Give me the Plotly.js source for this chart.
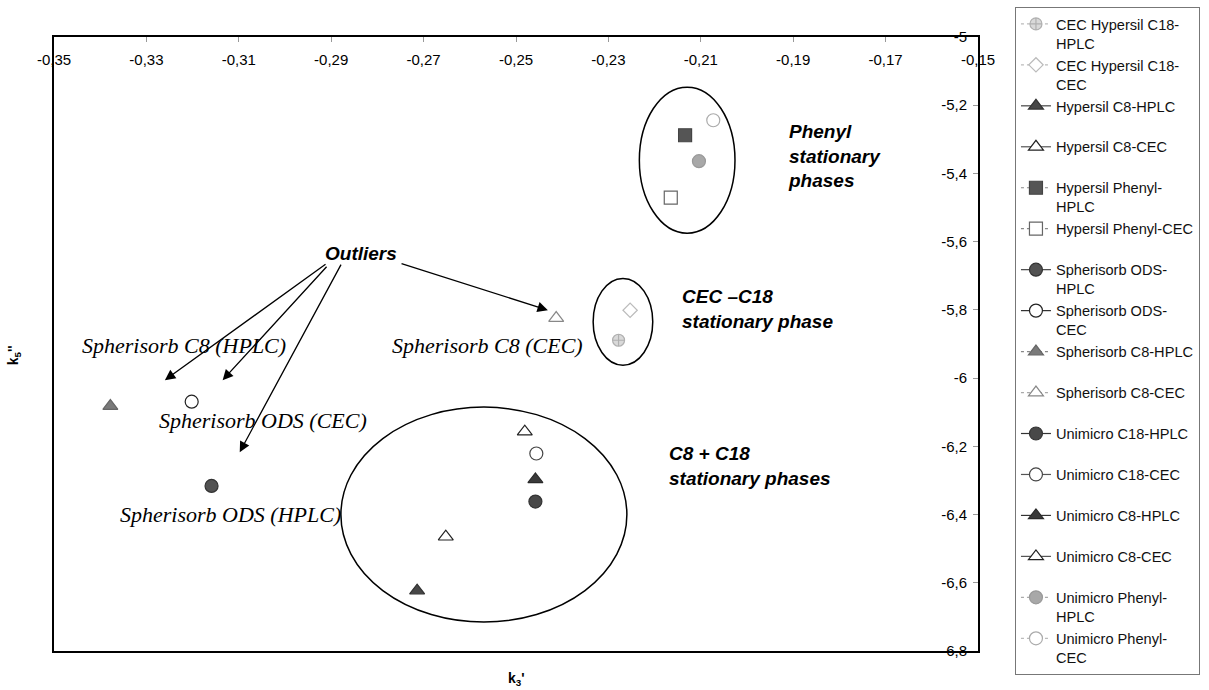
<!DOCTYPE html>
<html>
<head>
<meta charset="utf-8">
<script src="https://cdn.plot.ly/plotly-3.0.1.min.js"></script>
<style>html,body{margin:0;padding:0;background:#fff;}#chart{width:1209px;height:690px;}</style>
</head>
<body>
<div id="chart"></div>
<script>
// ---- data ----
const seriesNames = [
  "CEC Hypersil C18-HPLC", "CEC Hypersil C18-CEC",
  "Hypersil C8-HPLC", "Hypersil C8-CEC",
  "Hypersil Phenyl-HPLC", "Hypersil Phenyl-CEC",
  "Spherisorb ODS-HPLC", "Spherisorb ODS-CEC",
  "Spherisorb C8-HPLC", "Spherisorb C8-CEC",
  "Unimicro C18-HPLC", "Unimicro C18-CEC",
  "Unimicro C8-HPLC", "Unimicro C8-CEC",
  "Unimicro Phenyl-HPLC", "Unimicro Phenyl-CEC"
];
const legendLabels = [
  "CEC Hypersil C18-<br>HPLC", "CEC Hypersil C18-<br>CEC",
  "Hypersil C8-HPLC<br>&nbsp;", "Hypersil C8-CEC<br>&nbsp;",
  "Hypersil Phenyl-<br>HPLC", "Hypersil Phenyl-CEC<br>&nbsp;",
  "Spherisorb ODS-<br>HPLC", "Spherisorb ODS-<br>CEC",
  "Spherisorb C8-HPLC<br>&nbsp;", "Spherisorb C8-CEC<br>&nbsp;",
  "Unimicro C18-HPLC<br>&nbsp;", "Unimicro C18-CEC<br>&nbsp;",
  "Unimicro C8-HPLC<br>&nbsp;", "Unimicro C8-CEC<br>&nbsp;",
  "Unimicro Phenyl-<br>HPLC", "Unimicro Phenyl-<br>CEC"
];
const k3 = [-0.2278, -0.2253, -0.2714, -0.2652, -0.2134, -0.2165, -0.3159, -0.3202,
            -0.3378, -0.2413, -0.2458, -0.2456, -0.2458, -0.2481, -0.2104, -0.2073];
const k5 = [-5.889, -5.801, -6.623, -6.465, -5.288, -5.471, -6.316, -6.069,
            -6.082, -5.824, -6.362, -6.221, -6.297, -6.157, -5.364, -5.244];

const xTickVals = [-0.35, -0.33, -0.31, -0.29, -0.27, -0.25, -0.23, -0.21, -0.19, -0.17, -0.15];
const xTickText = ["-0,35", "-0,33", "-0,31", "-0,29", "-0,27", "-0,25", "-0,23", "-0,21", "-0,19", "-0,17", "-0,15"];
const yTickVals = [-5, -5.2, -5.4, -5.6, -5.8, -6, -6.2, -6.4, -6.6, -6.8];
const yTickText = ["-5", "-5,2", "-5,4", "-5,6", "-5,8", "-6", "-6,2", "-6,4", "-6,6", "-6,8"];

// ---- styles ----
const symbols = ["circle-cross", "diamond", "triangle-up", "triangle-up", "square", "square",
                 "circle", "circle", "triangle-up", "triangle-up", "circle", "circle",
                 "triangle-up", "triangle-up", "circle", "circle"];
const fills = ["#d9d9d9", "#ffffff", "#474747", "#ffffff", "#555555", "#ffffff",
               "#525252", "#ffffff", "#7a7a7a", "#ffffff", "#484848", "#ffffff",
               "#3a3a3a", "#ffffff", "#a8a8a8", "#ffffff"];
const edges = ["#b0b0b0", "#bbbbbb", "#333333", "#222222", "#444444", "#666666",
               "#333333", "#222222", "#666666", "#888888", "#333333", "#444444",
               "#2a2a2a", "#222222", "#999999", "#aaaaaa"];
const lineCols = ["#bbbbbb", "#bbbbbb", "#444444", "#555555", "#888888", "#888888",
                  "#444444", "#333333", "#888888", "#aaaaaa", "#333333", "#555555",
                  "#333333", "#555555", "#aaaaaa", "#bbbbbb"];
const lineDash = ["dot", "dot", "solid", "solid", "dot", "dot",
                  "solid", "solid", "dot", "dot", "solid", "solid",
                  "solid", "solid", "dot", "dot"];
const sizes = [12, 11, 13, 13, 13, 13, 13, 13, 13, 13, 13, 13, 13, 13, 13, 13];

const traces = seriesNames.map((n, i) => ({
  type: "scatter",
  mode: "lines+markers",
  name: legendLabels[i],
  x: [k3[i]],
  y: [k5[i]],
  marker: {symbol: symbols[i], size: sizes[i], color: fills[i], line: {color: edges[i], width: 1.2}},
  line: {color: lineCols[i], width: 1.2, dash: lineDash[i]},
  hovertext: n,
  cliponaxis: false
}));

const boldI = {family: "Liberation Sans, Arial, sans-serif", size: 19, color: "#000"};
const serifI = {family: "Liberation Serif, Times New Roman, serif", size: 22, color: "#000"};

const annotations = [
  {text: "<b><i>Outliers</i></b>", x: -0.2835, y: -5.634, xanchor: "center", yanchor: "middle", font: boldI},
  {text: "<i>Spherisorb C8 (HPLC)</i>", x: -0.3444, y: -5.903, xanchor: "left", yanchor: "middle", font: serifI},
  {text: "<i>Spherisorb C8 (CEC)</i>", x: -0.2773, y: -5.903, xanchor: "left", yanchor: "middle", font: serifI},
  {text: "<i>Spherisorb ODS (CEC)</i>", x: -0.3278, y: -6.123, xanchor: "left", yanchor: "middle", font: serifI},
  {text: "<i>Spherisorb ODS (HPLC)</i>", x: -0.3362, y: -6.401, xanchor: "left", yanchor: "middle", font: serifI},
  {text: "<b><i>Phenyl<br>stationary<br>phases</i></b>", x: -0.1915, y: -5.350, xanchor: "left", yanchor: "middle", align: "left", font: boldI},
  {text: "<b><i>CEC \u2013C18<br>stationary phase</i></b>", x: -0.2145, y: -5.798, xanchor: "left", yanchor: "middle", align: "left", font: boldI},
  {text: "<b><i>C8 + C18<br>stationary phases</i></b>", x: -0.2173, y: -6.258, xanchor: "left", yanchor: "middle", align: "left", font: boldI},
  // arrows
  {text: "", x: -0.3260, y: -6.006, ax: -0.2909, ay: -5.663, axref: "x", ayref: "y", showarrow: true, arrowhead: 2, arrowsize: 1.6, arrowwidth: 1.3, arrowcolor: "#000"},
  {text: "", x: -0.3135, y: -6.006, ax: -0.2907, ay: -5.669, axref: "x", ayref: "y", showarrow: true, arrowhead: 2, arrowsize: 1.6, arrowwidth: 1.3, arrowcolor: "#000"},
  {text: "", x: -0.3098, y: -6.217, ax: -0.2877, ay: -5.663, axref: "x", ayref: "y", showarrow: true, arrowhead: 2, arrowsize: 1.6, arrowwidth: 1.3, arrowcolor: "#000"},
  {text: "", x: -0.2431, y: -5.801, ax: -0.2751, ay: -5.663, axref: "x", ayref: "y", showarrow: true, arrowhead: 2, arrowsize: 1.6, arrowwidth: 1.3, arrowcolor: "#000"},
  // axis titles
  {text: "<b>k<sub>3</sub>'</b>", xref: "paper", yref: "paper", x: 0.5, y: -0.046, xanchor: "center", yanchor: "middle", showarrow: false,
   font: {family: "Liberation Sans, Arial, sans-serif", size: 14, color: "#000"}},
  {text: "<b>k<sub>5</sub>''</b>", xref: "paper", yref: "paper", x: -0.043, y: 0.482, xanchor: "center", yanchor: "middle", textangle: -90, showarrow: false,
   font: {family: "Liberation Sans, Arial, sans-serif", size: 14, color: "#000"}}
].map(a => Object.assign({xref: "x", yref: "y", showarrow: false}, a));

const shapes = [
  {type: "circle", xref: "x", yref: "y", x0: -0.2233, x1: -0.2026, y0: -5.575, y1: -5.147, line: {color: "#000", width: 1.5}},
  {type: "circle", xref: "x", yref: "y", x0: -0.2333, x1: -0.2204, y0: -5.962, y1: -5.708, line: {color: "#000", width: 1.5}},
  {type: "circle", xref: "x", yref: "y", x0: -0.2879, x1: -0.2260, y0: -6.715, y1: -6.085, line: {color: "#000", width: 1.5}}
];

const tickFont = {family: "Liberation Sans, Arial, sans-serif", size: 15, color: "#000"};

const layout = {
  width: 1209, height: 690,
  margin: {l: 54, r: 231, t: 37, b: 39, autoexpand: false},
  paper_bgcolor: "#fff", plot_bgcolor: "#fff",
  showlegend: true,
  legend: {
    x: 1.040, y: 1.049, xanchor: "left", yanchor: "top",
    bgcolor: "#fff", bordercolor: "#777", borderwidth: 1,
    font: {family: "Liberation Sans, Arial, sans-serif", size: 14.6, color: "#111"},
    valign: "top", traceorder: "normal", itemclick: false,
    maxheight: 800
  },
  xaxis: {
    range: [-0.35, -0.15], side: "top", showgrid: false, zeroline: false,
    showline: true, linecolor: "#000", linewidth: 1.6, mirror: true,
    ticks: "inside", ticklen: 5, tickcolor: "#999", tickwidth: 1,
    tickmode: "array", tickvals: xTickVals, ticktext: xTickText,
    ticklabelposition: "inside", ticklabeloverflow: "allow", ticklabelstandoff: 12, tickfont: tickFont
  },
  yaxis: {
    range: [-6.8, -5], side: "right", showgrid: false, zeroline: false,
    showline: true, linecolor: "#000", linewidth: 1.6, mirror: true,
    ticks: "inside", ticklen: 5, tickcolor: "#999", tickwidth: 1,
    tickmode: "array", tickvals: yTickVals, ticktext: yTickText,
    ticklabelposition: "inside", ticklabeloverflow: "allow", ticklabelstandoff: 6, tickfont: tickFont
  },
  annotations: annotations,
  shapes: shapes
};

Plotly.newPlot("chart", traces, layout, {displayModeBar: false, staticPlot: true});
</script>
</body>
</html>
